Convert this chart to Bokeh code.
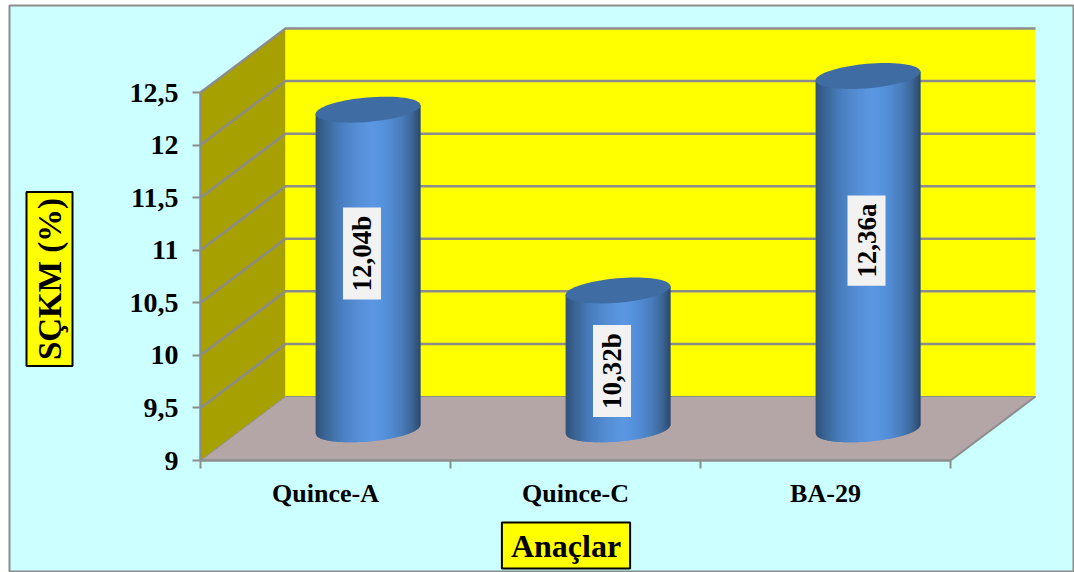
import math
from bokeh.embed import file_html
from bokeh.resources import INLINE
from bokeh.models import Range1d, LinearAxis, FixedTicker, Label
from bokeh.plotting import figure
from bokeh.core.properties import value

rootstocks = ["Quince-A", "Quince-C", "BA-29"]
scc_values = [12.04, 10.32, 12.36]
value_labels = ["12,04b", "10,32b", "12,36a"]
y_ticks = [9, 9.5, 10, 10.5, 11, 11.5, 12, 12.5]
y_tick_labels = ["9", "9,5", "10", "10,5", "11", "11,5", "12", "12,5"]

# Layout of the 3D box, in pixels
W, H = 1074, 572
FL, FR, FT, FB = 9, 1073, 5, 571       # chart-area frame
X0, Y0 = 200, 460                      # front corner of the axes
PX_PER_CAT = 250.0
PX_PER_UNIT = (460 - 92) / 3.5
DEPTH_X, DEPTH_Y = 85, 64
FONT = "Liberation Serif"
GRID = "#8c8c8c"
LABEL_POS = [(361.5, 253), (611.5, 370.5), (866, 240)]   # value-label centres

dx = DEPTH_X / PX_PER_CAT
dy = DEPTH_Y / PX_PER_UNIT
n = len(rootstocks)
ytop = y_ticks[-1]

p = figure(
    width=W, height=H, output_backend="svg", toolbar_location=None,
    x_axis_type=None, y_axis_type=None,
    x_range=Range1d((FL - X0) / PX_PER_CAT, (FR - X0) / PX_PER_CAT),
    y_range=Range1d(9 - (FB - Y0) / PX_PER_UNIT, 9 + (Y0 - FT) / PX_PER_UNIT),
    min_border_left=FL, min_border_right=W - FR, min_border_top=FT, min_border_bottom=H - FB,
    background_fill_color="#ccffff", border_fill_color="#ffffff",
    outline_line_color="#8c8c8c", outline_line_width=2,
)
p.grid.visible = False

# Walls and floor
p.patch([0, dx, dx, 0], [9, 9 + dy, ytop + dy, ytop], fill_color="#a6a000", line_color=None)
p.patch([dx, n + dx, n + dx, dx], [9 + dy, 9 + dy, ytop + dy, ytop + dy], fill_color="#ffff00", line_color=None)
p.patch([0, n, n + dx, dx], [9, 9, 9 + dy, 9 + dy], fill_color="#b4a6a6", line_color=None)

# Gridlines wrap from the side wall across the back wall
p.multi_line(
    [[0, dx, n + dx] for _ in y_ticks[1:]],
    [[v, v + dy, v + dy] for v in y_ticks[1:]],
    line_color=GRID, line_width=2.5,
)
p.line([0, dx, n + dx], [9, 9 + dy, 9 + dy], line_color=GRID, line_width=1)
p.line([n, n + dx], [9, 9 + dy], line_color=GRID, line_width=2)

# Cylinders: tilted ellipses at top and base, body shaded in narrow strips
A, B, TILT = 52.6, 12.2, math.radians(5)
sxx = (A * math.cos(TILT)) ** 2 + (B * math.sin(TILT)) ** 2
syy = (A * math.sin(TILT)) ** 2 + (B * math.cos(TILT)) ** 2
sxy = (A * A - B * B) * math.sin(TILT) * math.cos(TILT)
half_w = math.sqrt(sxx)
BAR_SHIFT_X = 42.5 / PX_PER_CAT
BAR_LIFT = 31.2 / PX_PER_UNIT

SHADES = [(0.00, "#30527c"), (0.10, "#3c6898"), (0.25, "#4a80c2"), (0.42, "#5790d8"),
          (0.55, "#5b97e2"), (0.68, "#5490da"), (0.82, "#4a7dbc"), (0.93, "#3c6594"), (1.00, "#2c4a70")]


def shade(t):
    for (t0, c0), (t1, c1) in zip(SHADES, SHADES[1:]):
        if t <= t1:
            f = (t - t0) / (t1 - t0)
            a = [int(c0[i:i + 2], 16) for i in (1, 3, 5)]
            b = [int(c1[i:i + 2], 16) for i in (1, 3, 5)]
            return "#%02x%02x%02x" % tuple(round(u + (w - u) * f) for u, w in zip(a, b))
    return SHADES[-1][1]


def arc(px, sign):
    # vertical pixel offset of the ellipse edge at horizontal pixel offset px
    lim = max(0.0, 1 - px * px / sxx)
    return px * sxy / sxx + sign * math.sqrt((syy - sxy * sxy / sxx) * lim)


def ellipse_outline(cx, cy, steps=72):
    xs, ys = [], []
    for k in range(steps):
        t = 2 * math.pi * k / steps
        ex = A * math.cos(t) * math.cos(TILT) - B * math.sin(t) * math.sin(TILT)
        ey = A * math.cos(t) * math.sin(TILT) + B * math.sin(t) * math.cos(TILT)
        xs.append(cx + ex / PX_PER_CAT)
        ys.append(cy + ey / PX_PER_UNIT)
    return xs, ys


base = y_ticks[0] + BAR_LIFT
for i, v in enumerate(scc_values):
    cx = i + 0.5 + BAR_SHIFT_X
    top = v + BAR_LIFT
    xs_all, ys_all, colors = [], [], []
    cols = int(2 * half_w)
    for c in range(cols):
        px0 = -half_w + 2 * half_w * c / cols
        px1 = min(px0 + 2 * half_w / cols + 1, half_w)
        x0 = cx + px0 / PX_PER_CAT
        x1 = cx + px1 / PX_PER_CAT
        xs_all.append([x0, x1, x1, x0])
        ys_all.append([
            base + arc(px0, -1) / PX_PER_UNIT, base + arc(px1, -1) / PX_PER_UNIT,
            top + arc(px1, 0) / PX_PER_UNIT, top + arc(px0, 0) / PX_PER_UNIT,
        ])
        colors.append(shade(c / (cols - 1)))
    p.patches(xs_all, ys_all, fill_color=colors, line_color=None)
    ex, ey = ellipse_outline(cx, top)
    p.patch(ex, ey, fill_color="#3f6ca3", line_color=None)

    lx, ly = LABEL_POS[i]
    p.text(
        [(lx - X0) / PX_PER_CAT], [9 + (Y0 - ly) / PX_PER_UNIT], text=[value_labels[i]], angle=math.pi / 2,
        text_font=value(FONT), text_font_style="bold", text_font_size="27px", text_color="#000000",
        text_align="center", text_baseline="middle",
        background_fill_color="#f2f2f2", padding=(8, 4),
    )

# Value axis drawn on the front edge of the side wall
yaxis = LinearAxis(
    fixed_location=0, bounds=(y_ticks[0], y_ticks[-1]), ticker=FixedTicker(ticks=y_ticks),
    major_label_overrides={t: s for t, s in zip(y_ticks, y_tick_labels)},
    axis_line_color=GRID, axis_line_width=2.5,
    major_tick_line_color=GRID, major_tick_line_width=2,
    major_tick_in=0, major_tick_out=8, minor_tick_line_color=None,
    major_label_text_font=FONT, major_label_text_font_style="bold",
    major_label_text_font_size="28px", major_label_text_color="#000000",
    major_label_standoff=14,
)
p.add_layout(yaxis, "left")

# Category axis: names on centred major ticks, marks on the boundary minor ticks
centres = [k + 0.5 for k in range(n)]
xaxis = LinearAxis(
    fixed_location=9, bounds=(0, n),
    ticker=FixedTicker(ticks=centres, minor_ticks=list(range(n + 1))),
    major_label_overrides={c: s for c, s in zip(centres, rootstocks)},
    axis_line_color=GRID, axis_line_width=2.5,
    major_tick_line_color=None,
    minor_tick_line_color=GRID, minor_tick_line_width=2, minor_tick_in=0, minor_tick_out=8,
    major_label_text_font=FONT, major_label_text_font_style="bold",
    major_label_text_font_size="26px", major_label_text_color="#000000",
    major_label_standoff=10,
)
p.add_layout(xaxis, "below")

# Boxed axis titles
p.add_layout(Label(
    x=49 - FL, y=FB - 278.5, x_units="screen", y_units="screen", text="SÇKM (%)", angle=math.pi / 2,
    text_font=FONT, text_font_style="bold", text_font_size="33px", text_color="#000000",
    text_align="center", text_baseline="middle",
    background_fill_color="#ffff00", border_line_color="#000000", border_line_width=2, padding=(6, 5),
))
p.add_layout(Label(
    x=565.5 - FL, y=FB - 545, x_units="screen", y_units="screen", text="Anaçlar",
    text_font=FONT, text_font_style="bold", text_font_size="32px", text_color="#000000",
    text_align="center", text_baseline="middle",
    background_fill_color="#ffff00", border_line_color="#000000", border_line_width=2, padding=(9, 5),
))

open("out.html", "w").write(file_html(p, INLINE))
